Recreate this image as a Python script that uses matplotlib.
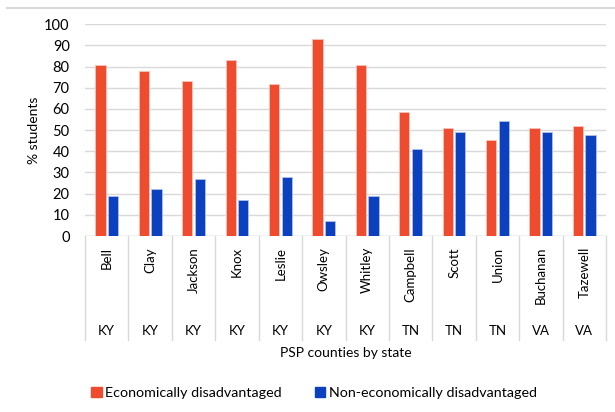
import numpy as np
import matplotlib
matplotlib.use("Agg")
import matplotlib.pyplot as plt
from matplotlib.patches import Patch
from matplotlib.lines import Line2D

counties = ["Bell", "Clay", "Jackson", "Knox", "Leslie", "Owsley", "Whitley",
            "Campbell", "Scott", "Union", "Buchanan", "Tazewell"]
states = ["KY", "KY", "KY", "KY", "KY", "KY", "KY", "TN", "TN", "TN", "VA", "VA"]
econ_disadv = [81, 78, 73, 83, 72, 93, 81, 58.5, 51, 45.5, 51, 52]
non_econ_disadv = [19, 22, 27, 17, 28, 7, 19, 41, 49, 54.5, 49, 47.5]

RED = "#EE4B2F"
BLUE = "#0B41BE"
GRID = "#D9D9D9"


def main():
    plt.rcParams["font.family"] = ["Lato", "DejaVu Sans"]
    fig = plt.figure(figsize=(6.15, 4.12), dpi=100)
    ax = fig.add_axes([85 / 615, 1 - 236 / 412, (606 - 85) / 615, (236 - 24.3) / 412])

    x = np.arange(len(counties))
    w = 0.235
    ax.bar(x - 0.145, econ_disadv, w, color=RED, edgecolor="#F8C8C0", linewidth=0.5, zorder=3)
    ax.bar(x + 0.145, non_econ_disadv, w, color=BLUE, edgecolor="#B8C6EC", linewidth=0.5, zorder=3)

    ax.set_xlim(-0.5, len(counties) - 0.5)
    ax.set_ylim(0, 100)
    ax.set_yticks(np.arange(0, 101, 10))
    ax.tick_params(axis="y", length=0, labelsize=10.5, pad=11)
    ax.set_xticks([])
    ax.yaxis.grid(True, color=GRID, linewidth=1)
    ax.set_axisbelow(True)
    for s in ax.spines.values():
        s.set_visible(False)
    ax.axhline(0, color=GRID, linewidth=1, zorder=2)
    ax.set_ylabel("% students", fontsize=10, labelpad=3)

    # multi-level category axis
    trans = ax.get_xaxis_transform()
    sep_bottom = -(340 - 236) / 211.7
    for i in range(len(counties) + 1):
        ax.add_line(Line2D([i - 0.5, i - 0.5], [0, sep_bottom], transform=trans,
                           color=GRID, linewidth=1, clip_on=False))
    for i, (c, st) in enumerate(zip(counties, states)):
        ax.text(i, -(247 - 236) / 211.7, c, transform=trans, rotation=90,
                ha="center", va="top", fontsize=9.5)
        ax.text(i, -(331 - 236) / 211.7, st, transform=trans, ha="center", va="center", fontsize=9.5)
    ax.text(0.5, -(353 - 236) / 211.7, "PSP counties by state", transform=ax.transAxes,
            ha="center", va="center", fontsize=10)

    # chart border top line
    fig.add_artist(Line2D([7 / 615, 1], [1 - 7.5 / 412, 1 - 7.5 / 412], color=GRID, linewidth=1.5))

    handles = [Patch(facecolor=RED, edgecolor=RED), Patch(facecolor=BLUE, edgecolor=BLUE)]
    fig.legend(handles, ["Economically disadvantaged", "Non-economically disadvantaged"],
               loc="center", bbox_to_anchor=(314 / 615, 1 - 393 / 412), ncol=2, frameon=False,
               fontsize=10.3, handlelength=0.75, handleheight=0.65, handletextpad=0.25,
               columnspacing=2.3)

    plt.savefig("out.png", dpi=100)
    plt.close()


if __name__ == "__main__":
    main()
